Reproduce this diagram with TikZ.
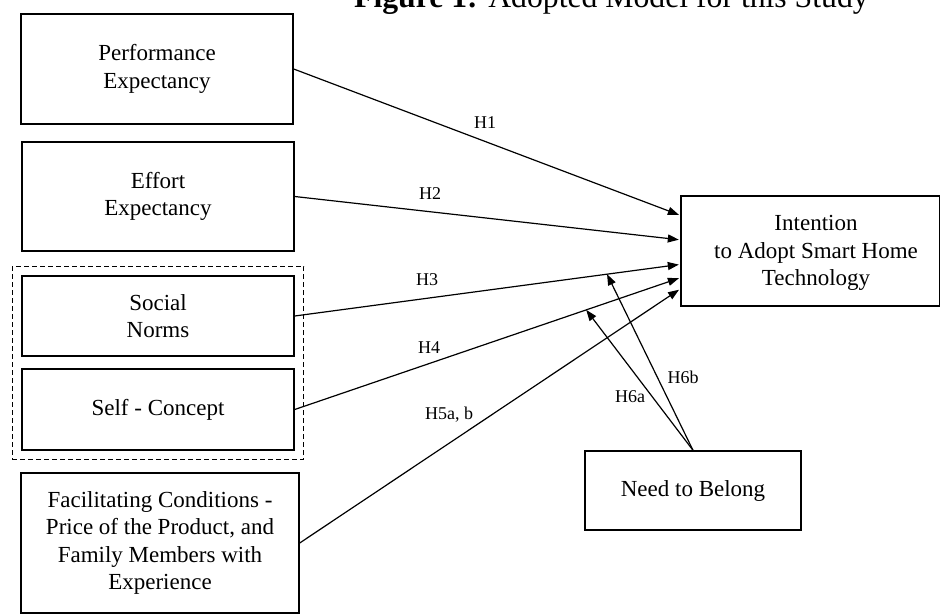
\documentclass[tikz,border=0pt]{standalone}
\usepackage{fontspec}
\setmainfont{Liberation Serif}
\usetikzlibrary{arrows.meta,calc,fit}

\begin{document}
\begin{tikzpicture}[x=1pt,y=-1pt,
  box/.style={draw, line width=1.4pt, inner sep=0pt, align=center,
    font=\fontsize{23}{27.6}\selectfont},
  boxtext/.style={inner sep=0pt, align=center, font=\fontsize{23}{27.6}\selectfont},
  hyp/.style={inner sep=0pt, font=\fontsize{18}{21}\selectfont},
  link/.style={line width=1.2pt, -{Triangle[length=11pt,width=8pt]}, shorten >=1.5pt},
  grp/.style={draw, line width=1.4pt, dash pattern=on 5pt off 3pt, inner sep=9pt}]

\clip (0,0) rectangle (941,615);

% title
\node[anchor=base west, inner sep=0pt, font=\fontsize{31.7}{36}\selectfont] (title) at (354,8)
  {\textbf{Figure 1:} Adopted Model for this Study};

% predictor boxes
\node[box, minimum width=272pt, minimum height=110pt] (pe) at (157,69) {Performance\\Expectancy};
\node[box, minimum width=272pt, minimum height=109pt] (ee) at (158,196.5) {Effort\\Expectancy};
\node[box, minimum width=272pt, minimum height=80pt] (sn) at (158,316) {Social\\Norms};
\node[box, minimum width=272pt, minimum height=81pt] (sc) at (158,409.5) {Self - Concept};
\node[grp, fit=(sn)(sc)] (group) {};
\node[box, minimum width=278pt, minimum height=140pt] (fc) at (160,543)
  {Facilitating Conditions -\\Price of the Product, and\\Family Members with\\Experience};

% outcome and moderator
\node[box, minimum width=258.5pt, minimum height=110pt] (int) at (810.25,251) {};
\node[boxtext] (inttext) at (816,253) {Intention\\to Adopt Smart Home\\Technology};
\node[box, minimum width=216pt, minimum height=79pt] (nb) at (693,490.5) {Need to Belong};

% arrow ends on the outcome box
\coordinate (e1) at ($(int.north west)!0.18!(int.south west)$);
\coordinate (e2) at ($(int.north west)!0.40!(int.south west)$);
\coordinate (e3) at ($(int.north west)!0.62!(int.south west)$);
\coordinate (e4) at ($(int.north west)!0.74!(int.south west)$);
\coordinate (e5) at ($(int.north west)!0.84!(int.south west)$);

\draw[link] (pe.east) -- (e1);
\draw[link] (ee.east) -- (e2);
\draw[link] (sn.east) -- (e3);
\draw[link] (sc.east) -- (e4);
\draw[link] (fc.east) -- (e5);

% moderating paths end on the H3 and H4 lines
\coordinate (m6b) at ($(sn.east)!0.81!(e3)$);
\coordinate (m6a) at ($(sc.east)!0.756!(e4)$);
\draw[link, shorten >=0pt] (nb.north) -- (m6b);
\draw[link, shorten >=0pt] (nb.north) -- (m6a);

% hypothesis labels
\node[hyp] (h1) at (485,123) {H1};
\node[hyp] (h2) at (430,194) {H2};
\node[hyp] (h3) at (427,280) {H3};
\node[hyp] (h4) at (429,348) {H4};
\node[hyp] (h5) at (449,415) {H5a, b};
\node[hyp] (h6a) at (630,397) {H6a};
\node[hyp] (h6b) at (683,377) {H6b};

\end{tikzpicture}
\end{document}
